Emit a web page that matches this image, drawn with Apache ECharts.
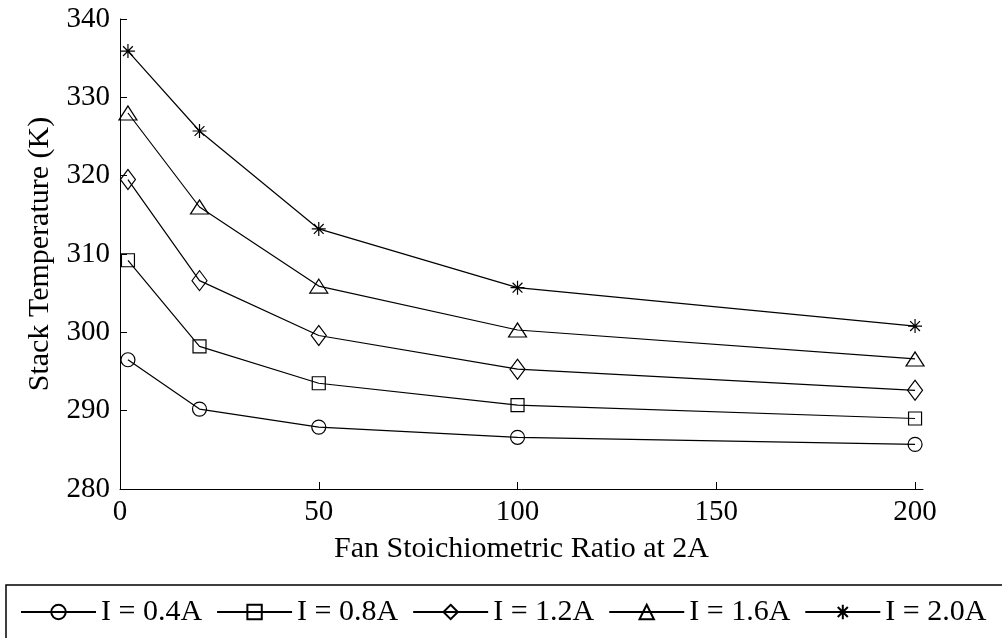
<!DOCTYPE html>
<html>
<head>
<meta charset="utf-8">
<script src="https://cdn.jsdelivr.net/npm/echarts@6/dist/echarts.min.js"></script>
<style>
  html, body { margin: 0; padding: 0; background: #fff; }
  #chart { width: 1002px; height: 638px; }
</style>
</head>
<body>
<div id="chart"></div>
<script>
// fan stoichiometric ratio (x) and stack temperature in K for each current
const ratios = [2, 20, 50, 100, 200];
const tempI04 = [296.5, 290.2, 287.9, 286.6, 285.7];
const tempI08 = [309.2, 298.2, 293.5, 290.7, 289.0];
const tempI12 = [319.5, 306.6, 299.6, 295.3, 292.6];
const tempI16 = [328.0, 316.0, 305.9, 300.3, 296.6];
const tempI20 = [335.9, 325.7, 313.2, 305.7, 300.8];
const seriesNames = ['I = 0.4A', 'I = 0.8A', 'I = 1.2A', 'I = 1.6A', 'I = 2.0A'];
const xTicks = [0, 50, 100, 150, 200];

const FONT = 'Liberation Serif';
const asterisk = 'path://M5,0L5,10M0,5L10,5M1.5,1.5L8.5,8.5M1.5,8.5L8.5,1.5';

const markers = [
  { symbol: 'circle', size: 14 },
  { symbol: 'rect', size: 13 },
  { symbol: 'diamond', size: [15, 20] },
  { symbol: 'triangle', size: [18, 14] },
  { symbol: asterisk, size: 14 }
];

const allTemps = [tempI04, tempI08, tempI12, tempI16, tempI20];

const chart = echarts.init(document.getElementById('chart'), null, { renderer: 'canvas' });

const option = {
  animation: false,
  backgroundColor: '#fff',
  textStyle: { fontFamily: FONT, color: '#000' },
  grid: { left: 120, top: 19, width: 803, height: 470, containLabel: false },
  xAxis: {
    type: 'value',
    min: 0,
    max: 202,
    name: 'Fan Stoichiometric Ratio at 2A',
    nameLocation: 'middle',
    nameGap: 45,
    nameTextStyle: { fontFamily: FONT, fontSize: 30, color: '#000' },
    axisLine: { show: true, lineStyle: { color: '#000', width: 1 } },
    axisTick: { inside: true, length: 7, customValues: xTicks, lineStyle: { color: '#000' } },
    axisLabel: { customValues: xTicks, fontFamily: FONT, fontSize: 29, color: '#000', margin: 9 },
    splitLine: { show: false }
  },
  yAxis: {
    type: 'value',
    min: 280,
    max: 340,
    interval: 10,
    name: 'Stack Temperature (K)',
    nameLocation: 'middle',
    nameRotate: 90,
    nameGap: 64,
    nameTextStyle: { fontFamily: FONT, fontSize: 30, color: '#000' },
    axisLine: { show: true, lineStyle: { color: '#000', width: 1 } },
    axisTick: { inside: true, length: 7, lineStyle: { color: '#000' } },
    axisLabel: { fontFamily: FONT, fontSize: 29, color: '#000', margin: 10 },
    splitLine: { show: false }
  },
  legend: {
    orient: 'horizontal',
    left: 6,
    top: 585,
    width: 1080,
    padding: [12, 30, 20, 14],
    borderColor: '#000',
    borderWidth: 1.5,
    itemWidth: 75,
    itemHeight: 18,
    itemGap: 14,
    textStyle: { fontFamily: FONT, fontSize: 30, color: '#000' },
    data: seriesNames
  },
  series: allTemps.map((temps, i) => ({
    name: seriesNames[i],
    type: 'line',
    data: ratios.map((r, j) => [r, temps[j]]),
    symbol: markers[i].symbol,
    symbolSize: markers[i].size,
    symbolKeepAspect: false,
    showSymbol: true,
    lineStyle: { color: '#000', width: 1.2 },
    itemStyle: { color: 'rgba(255,255,255,0)', borderColor: '#000', borderWidth: 1.2 },
    emphasis: { disabled: true }
  }))
};

chart.setOption(option);
</script>
</body>
</html>
